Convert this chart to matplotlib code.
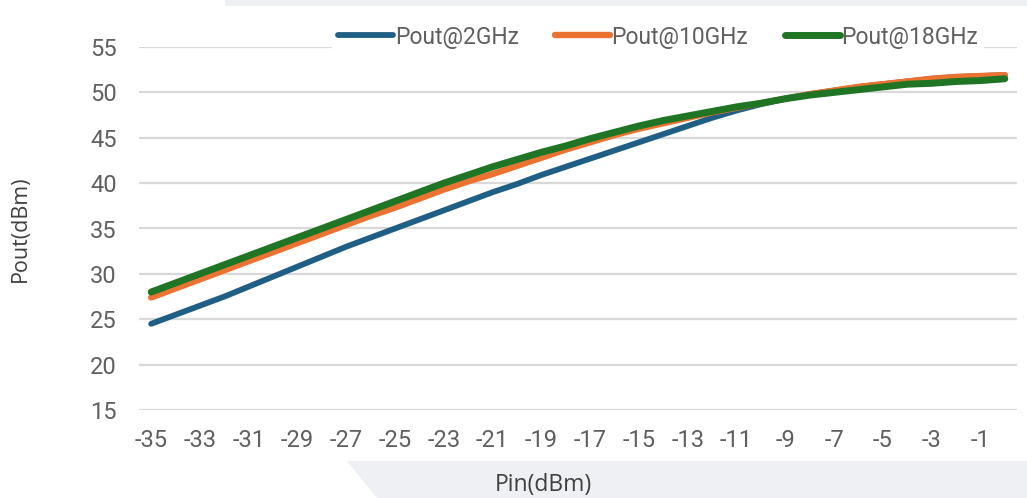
import numpy as np
import matplotlib
matplotlib.use('Agg')
import matplotlib.pyplot as plt
from matplotlib.patches import Polygon

plt.rcParams['axes.unicode_minus'] = False

# Data
pin = list(range(-35, 1))
pout_2ghz = [24.5, 25.5, 26.5, 27.5, 28.6, 29.7, 30.8, 31.9, 33.0, 34.0,
             35.0, 36.0, 37.0, 38.0, 39.0, 39.9, 40.9, 41.8, 42.7, 43.6,
             44.5, 45.4, 46.3, 47.2, 48.0, 48.7, 49.3, 49.8, 50.2, 50.6,
             50.9, 51.2, 51.5, 51.7, 51.8, 51.9]
pout_10ghz = [27.4, 28.4, 29.4, 30.4, 31.4, 32.4, 33.4, 34.4, 35.4, 36.4,
              37.3, 38.3, 39.3, 40.2, 41.0, 41.9, 42.8, 43.7, 44.5, 45.3,
              46.0, 46.6, 47.2, 47.8, 48.3, 48.8, 49.3, 49.8, 50.2, 50.6,
              50.9, 51.2, 51.5, 51.7, 51.8, 51.9]
pout_18ghz = [28.0, 29.0, 30.0, 31.0, 32.0, 33.0, 34.0, 35.0, 36.0, 37.0,
              38.0, 39.0, 40.0, 40.9, 41.8, 42.6, 43.4, 44.1, 44.9, 45.6,
              46.3, 46.9, 47.4, 47.9, 48.4, 48.8, 49.3, 49.7, 50.0, 50.3,
              50.6, 50.9, 51.0, 51.2, 51.3, 51.5]
x_ticks = list(range(-35, 0, 2))
y_ticks = [15, 20, 25, 30, 35, 40, 45, 50, 55]

fig = plt.figure(figsize=(10.27, 4.98), dpi=100)

# decorative background shapes
fig.patches.append(Polygon([(225/1027, 1), (1, 1), (1, 1-6/498), (225/1027, 1-6/498)],
                           closed=True, transform=fig.transFigure,
                           facecolor='#eef0f4', edgecolor='none', zorder=0))
fig.patches.append(Polygon([(347/1027, 1-461/498), (1, 1-461/498), (1, 0), (377/1027, 0)],
                           closed=True, transform=fig.transFigure,
                           facecolor='#eef0f4', edgecolor='none', zorder=0))

ax = fig.add_axes([139/1027, 1-410/498, 878/1027, 363/498])
ax.patch.set_alpha(0)

ax.plot(pin, pout_2ghz, color='#1f5f86', lw=4.2, solid_capstyle='round', label='Pout@2GHz', zorder=3)
ax.plot(pin, pout_10ghz, color='#ec7232', lw=4.6, solid_capstyle='round', label='Pout@10GHz', zorder=4)
ax.plot(pin, pout_18ghz, color='#1f7524', lw=5.0, solid_capstyle='round', label='Pout@18GHz', zorder=5)

ax.set_xlim(-35.5, 0.5)
ax.set_ylim(15, 55)
ax.set_xticks(x_ticks)
ax.set_yticks(y_ticks)
ax.grid(axis='y', color='#d9d9d9', lw=1.6)
ax.set_axisbelow(True)
for s in ax.spines.values():
    s.set_visible(False)
ax.tick_params(length=0, labelsize=17, labelcolor='#606060')
ax.tick_params(axis='x', pad=14)
ax.tick_params(axis='y', pad=16)
for lab in ax.get_xticklabels() + ax.get_yticklabels():
    lab.set_family(['Roboto', 'DejaVu Sans'])

leg = ax.legend(loc='center', bbox_to_anchor=(0.5 + 80/878, 1 + 10/363), ncol=3,
                frameon=True, fancybox=False, edgecolor='none', framealpha=1,
                handlelength=2.4, handletextpad=0.05, columnspacing=1.6,
                borderpad=0.3,
                prop={'family': ['Roboto', 'DejaVu Sans'], 'size': 16.5})
for t in leg.get_texts():
    t.set_color('#606060')

fig.text(20/1027, 1-229/498, 'Pout(dBm)', rotation=90, ha='center', va='center',
         fontsize=15.5, color='#404040', family=['Open Sans', 'DejaVu Sans'])
fig.text(543/1027, 1-485/498, 'Pin(dBm)', ha='center', va='center',
         fontsize=16.5, color='#404040', family=['Open Sans', 'DejaVu Sans'])

fig.savefig('out.png', dpi=100)
